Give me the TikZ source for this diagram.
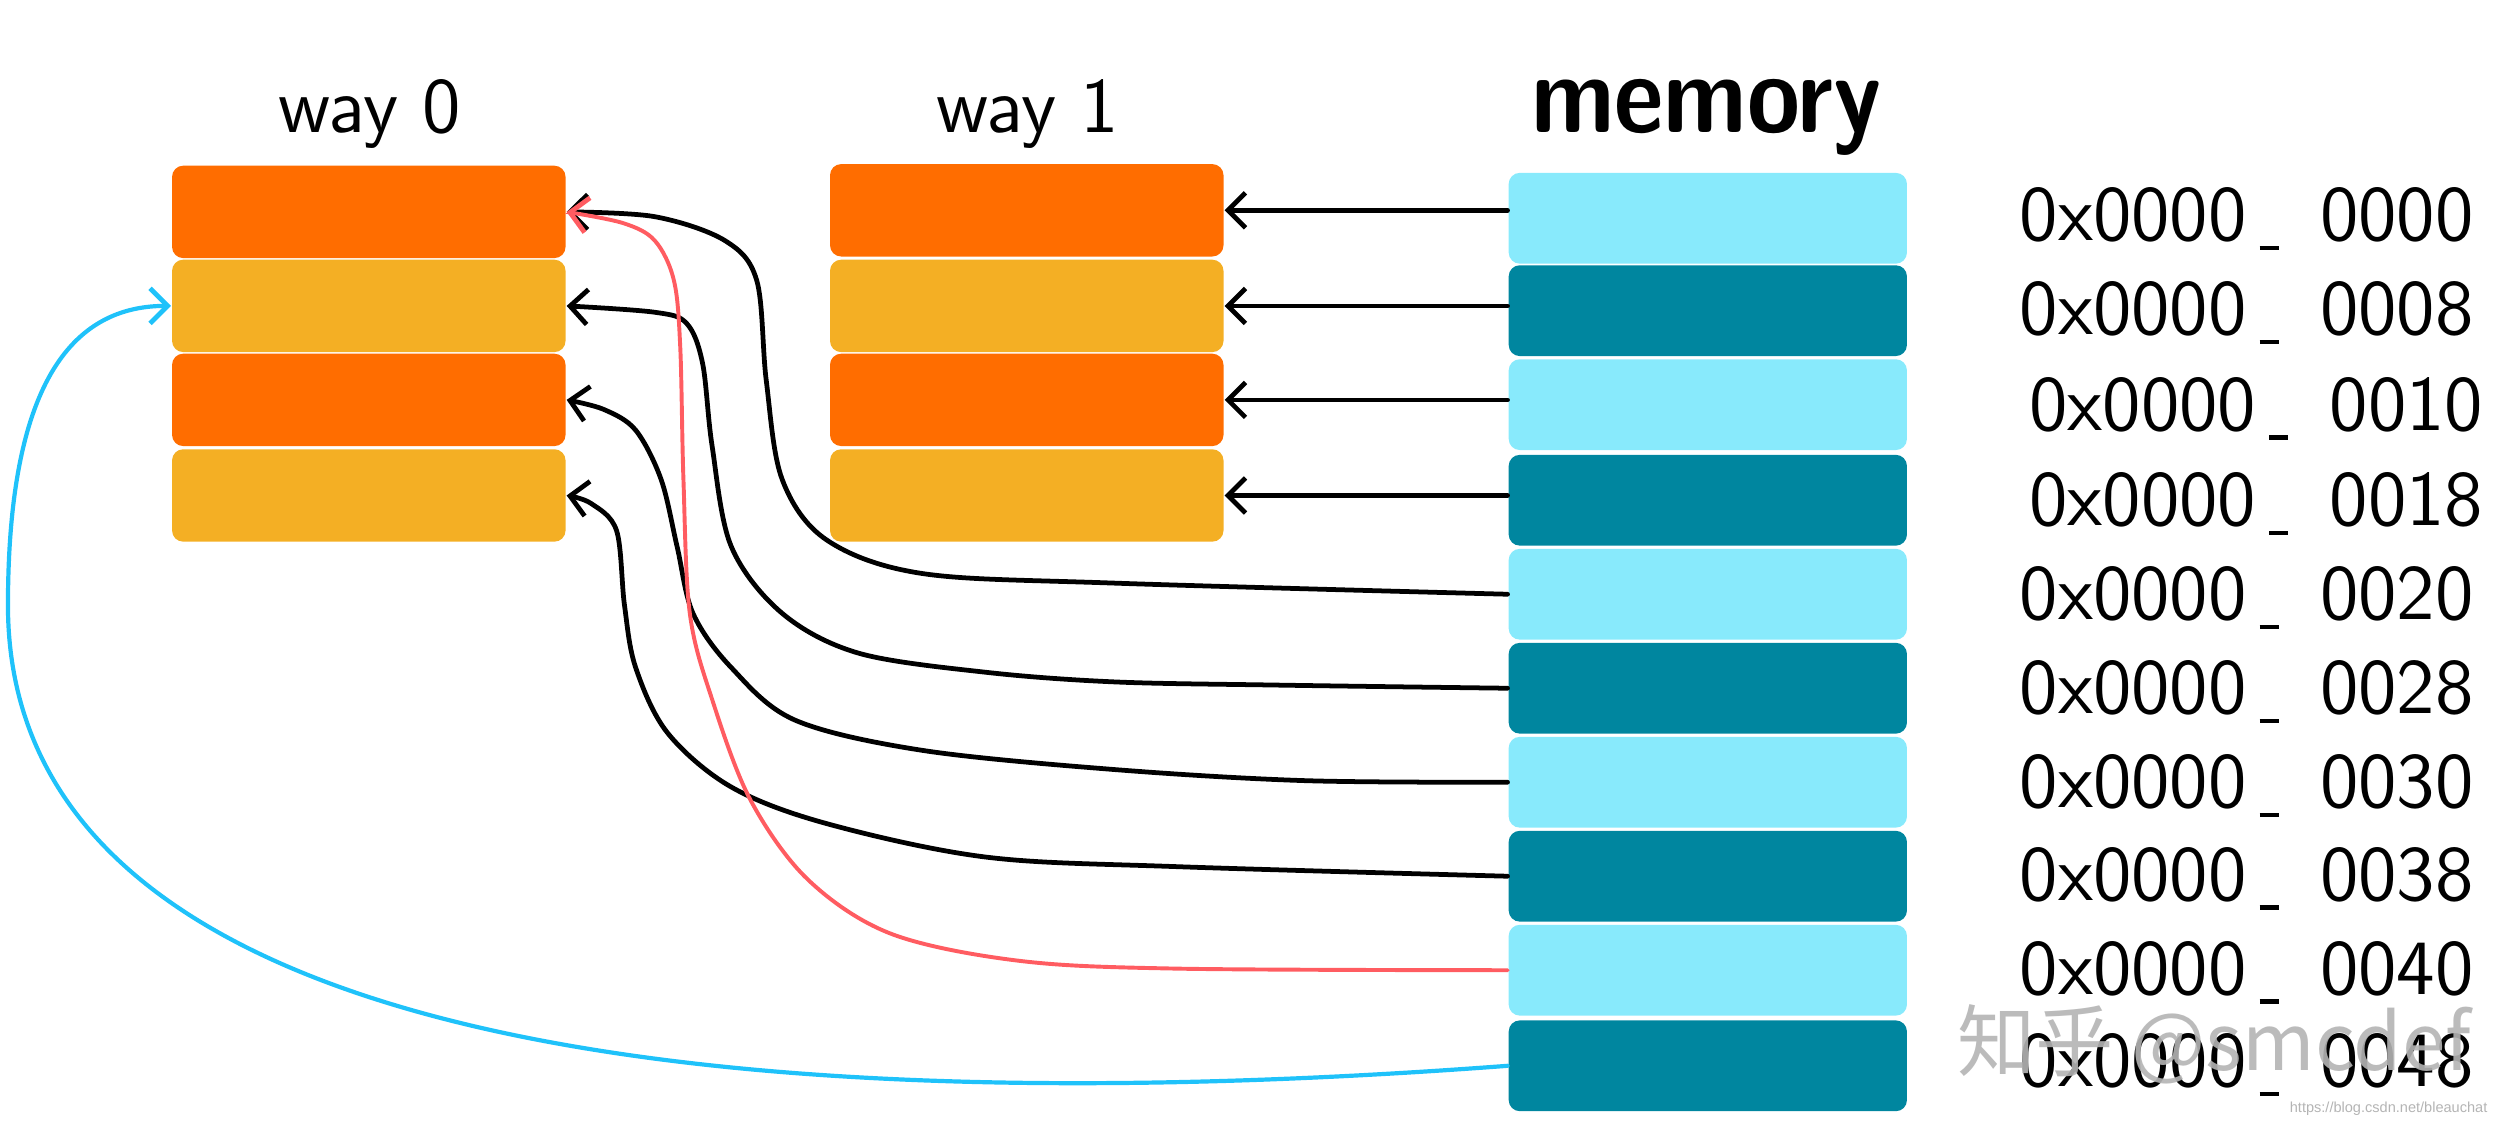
\documentclass[tikz,border=0pt]{standalone}
\usepackage{fontspec}
\newfontfamily\cjkfont{Noto Sans CJK SC}
\newfontfamily\urlfont{Liberation Sans}
\usetikzlibrary{arrows.meta}
\definecolor{orng}{HTML}{FF6D00}
\definecolor{ambr}{HTML}{F4AF24}
\definecolor{lcyan}{HTML}{88EAFC}
\definecolor{dteal}{HTML}{00869F}
\definecolor{redl}{HTML}{FF5C61}
\definecolor{bluel}{HTML}{1FC2FA}
\definecolor{wmgrey}{HTML}{B4B4B4}
\begin{document}
\begin{tikzpicture}[x=0.1mm,y=-0.1mm,
  cell/.style={rectangle, rounded corners=0.7mm, minimum width=24.7mm, minimum height=5.8mm, inner sep=0pt},
  memcell/.style={cell, minimum width=25mm, minimum height=5.7mm},
  arr/.style={line width=0.85pt, line cap=round, -{Straight Barb[length=1.1mm,width=2.2mm,line width=0.85pt]}},
  redarr/.style={arr, draw=redl, line width=0.7pt},
  bluearr/.style={arr, draw=bluel, line width=0.75pt},
  title/.style={anchor=base, inner sep=0pt, font=\sffamily\fontsize{14}{16}\selectfont},
  addr/.style={anchor=base west, inner sep=0pt, font=\sffamily\fontsize{14}{16}\selectfont}
]
\useasboundingbox (0,0) rectangle (1568,706);
% titles
\node[title] (tw0) at (232,83) {way\hspace{1.5mm}0};
\node[title] (tw1) at (645,83) {way\hspace{1.5mm}1};
\node[title, font=\sffamily\bfseries\fontsize{20}{22}\selectfont] (tmem) at (1071,83) {\scalebox{0.86}[1]{memory}};
% way 0
\node[cell, fill=orng] (a1) at (231.5,133) {};
\node[cell, fill=ambr] (a2) at (231.5,192) {};
\node[cell, fill=orng] (a3) at (231.5,251) {};
\node[cell, fill=ambr] (a4) at (231.5,311) {};
% way 1
\node[cell, fill=orng] (b1) at (644.5,132) {};
\node[cell, fill=ambr] (b2) at (644.5,192) {};
\node[cell, fill=orng] (b3) at (644.5,251) {};
\node[cell, fill=ambr] (b4) at (644.5,311) {};
% memory
\node[memcell, fill=lcyan] (m1) at (1072,137) {};
\node[memcell, fill=dteal] (m2) at (1072,195) {};
\node[memcell, fill=lcyan] (m3) at (1072,254) {};
\node[memcell, fill=dteal] (m4) at (1072,314) {};
\node[memcell, fill=lcyan] (m5) at (1072,373) {};
\node[memcell, fill=dteal] (m6) at (1072,432) {};
\node[memcell, fill=lcyan] (m7) at (1072,491) {};
\node[memcell, fill=dteal] (m8) at (1072,550) {};
\node[memcell, fill=lcyan] (m9) at (1072,609) {};
\node[memcell, fill=dteal] (m10) at (1072,669) {};
% addresses
\newcommand{\adr}[1]{0x0000\hspace{0.8mm}\rule[-0.6mm]{1.2mm}{0.28mm}\hspace{2.6mm}#1}
\node[addr] (t1) at (1267,151) {\adr{0000}};
\node[addr] (t2) at (1267,210) {\adr{0008}};
\node[addr] (t3) at (1273,270) {\adr{0010}};
\node[addr] (t4) at (1273,330) {\adr{0018}};
\node[addr] (t5) at (1267,389) {\adr{0020}};
\node[addr] (t6) at (1267,448) {\adr{0028}};
\node[addr] (t7) at (1267,507) {\adr{0030}};
\node[addr] (t8) at (1267,565) {\adr{0038}};
\node[addr] (t9) at (1267,624) {\adr{0040}};
\node[addr] (t10) at (1267,682) {\adr{0048}};
% way 1 connectors
\draw[arr] (m1.west |- b1.east) -- (b1.east);
\draw[arr] (m2.west |- b2.east) -- (b2.east);
\draw[arr] (m3.west |- b3.east) -- (b3.east);
\draw[arr] (m4.west |- b4.east) -- (b4.east);
% way 0 connectors
\draw[arr] plot[smooth, tension=0.55] coordinates {(m5.west) (699,366) (579,360) (519,339) (491,301) (481,239) (475,176) (455,151) (411,136) (a1.east)};
\draw[arr] plot[smooth, tension=0.55] coordinates {(m6.west) (800,430) (699,428) (619,422) (539,410) (491,385) (459,343) (447,280) (441,228) (431,203) (411,196) (a2.east)};
\draw[arr] plot[smooth, tension=0.55] coordinates {(m7.west) (819,490) (699,483) (579,471) (499,452) (459,419) (435,385) (425,343) (415,301) (399,270) (379,257) (a3.east)};
\draw[arr] plot[smooth, tension=0.55] coordinates {(m8.west) (739,544) (619,538) (519,517) (459,494) (419,460) (399,419) (392,380) (387,333) (371,316) (a4.east)};
\draw[redarr] plot[smooth, tension=0.55] coordinates {(m9.west) (739,608) (639,603) (559,586) (507,552) (471,502) (447,439) (433,385) (429,301) (427,218) (423,176) (411,151) (391,140) (a1.east)};
\draw[bluearr] (m10.west) .. controls (600,695) and (5,700) .. (5,380) .. controls (5,250) and (40,192) .. (a2.west);
% watermarks
\node[anchor=base west, inner sep=0pt, text=wmgrey, text opacity=0.9, font=\cjkfont\fontsize{14}{16}\selectfont] (wm) at (1228,672) {知乎 @smcdef};
\node[anchor=base east, inner sep=0pt, text=wmgrey, font=\urlfont\fontsize{2.6}{3}\selectfont] (url) at (1562,698) {https://blog.csdn.net/bleauchat};
\end{tikzpicture}
\end{document}
